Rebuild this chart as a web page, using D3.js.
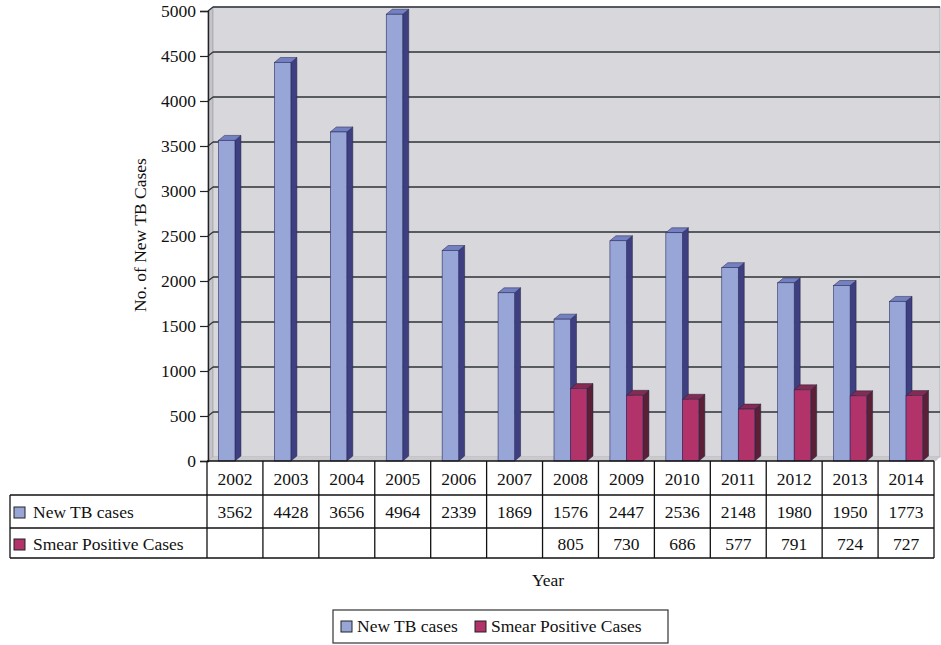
<!DOCTYPE html>
<html>
<head>
<meta charset="utf-8">
<script src="https://cdn.jsdelivr.net/npm/d3@7.9.0/dist/d3.min.js"></script>
<style>
  body { margin: 0; background: #fff; }
</style>
</head>
<body>
<div id="chart"></div>
<script>
const years = ['2002', '2003', '2004', '2005', '2006', '2007', '2008', '2009', '2010', '2011', '2012', '2013', '2014'];
const newCases = [3562, 4428, 3656, 4964, 2339, 1869, 1576, 2447, 2536, 2148, 1980, 1950, 1773];
const smearCases = [null, null, null, null, null, null, 805, 730, 686, 577, 791, 724, 727];
const seriesNames = ['New TB cases', 'Smear Positive Cases'];
const yTicks = [0, 500, 1000, 1500, 2000, 2500, 3000, 3500, 4000, 4500, 5000];

const width = 941;
const height = 645;
const plot = { left: 208, right: 934, top: 11, bottom: 461 };
const depth = { dx: 5, dy: -4 };
const barDepth = { dx: 6, dy: -5 };
const serif = 'Liberation Serif';

const colors = {
  wall: '#d8d8dc',
  side: '#c4c4ca',
  blue: { front: '#98a6d7', side: '#3d3f80', top: '#7380c2' },
  red: { front: '#b13369', side: '#5b2036', top: '#842b4f' }
};

const svg = d3.select('#chart')
  .append('svg')
  .attr('width', width)
  .attr('height', height);

const x = d3.scaleBand()
  .domain(years)
  .range([207, 934]);

const y = d3.scaleLinear()
  .domain([0, 5000])
  .range([plot.bottom, plot.top]);

// side wall and back wall
svg.append('polygon')
  .attr('points', [
    [plot.left, y(0)], [plot.left + depth.dx, y(0) + depth.dy],
    [plot.left + depth.dx, y(5000) + depth.dy], [plot.left, y(5000)]
  ].join(' '))
  .attr('fill', colors.side)
  .attr('stroke', '#9a9aa2')
  .attr('stroke-width', 0.8);

svg.append('rect')
  .attr('x', plot.left + depth.dx)
  .attr('y', y(5000) + depth.dy)
  .attr('width', 940 - plot.left - depth.dx)
  .attr('height', y(0) - y(5000))
  .attr('fill', colors.wall)
  .attr('stroke', '#b0b0b6')
  .attr('stroke-width', 1);

// floor
svg.append('polygon')
  .attr('points', [
    [plot.left, y(0)], [plot.left + depth.dx, y(0) + depth.dy],
    [940, y(0) + depth.dy], [936, y(0)]
  ].join(' '))
  .attr('fill', '#c9c9ce');

// gridlines on the back wall
const grid = svg.append('g').attr('class', 'gridlines');
grid.selectAll('line.back')
  .data(yTicks.filter(d => d > 0))
  .join('line')
  .attr('class', 'back')
  .attr('x1', plot.left + depth.dx)
  .attr('x2', 940)
  .attr('y1', d => y(d) + depth.dy)
  .attr('y2', d => y(d) + depth.dy)
  .attr('stroke', '#2e3338')
  .attr('stroke-width', 1.6);
grid.selectAll('line.diag')
  .data(yTicks.filter(d => d > 0))
  .join('line')
  .attr('class', 'diag')
  .attr('x1', plot.left)
  .attr('x2', plot.left + depth.dx)
  .attr('y1', d => y(d))
  .attr('y2', d => y(d) + depth.dy)
  .attr('stroke', '#2e3338')
  .attr('stroke-width', 1.2);

// 3D bars
function drawBars(values, offset, c) {
  const bw = 16.5;
  const g = svg.append('g');
  const data = years.map((yr, i) => ({ yr, v: values[i] })).filter(d => d.v != null);
  const x0 = d => x(d.yr) + x.bandwidth() / 2 + offset * bw;
  g.selectAll('polygon.side')
    .data(data)
    .join('polygon')
    .attr('points', d => [
      [x0(d) + bw, y(0)], [x0(d) + bw + barDepth.dx, y(0) + barDepth.dy],
      [x0(d) + bw + barDepth.dx, y(d.v) + barDepth.dy], [x0(d) + bw, y(d.v)]
    ].join(' '))
    .attr('fill', c.side)
    .attr('stroke', '#222244')
    .attr('stroke-width', 0.5);
  g.selectAll('polygon.top')
    .data(data)
    .join('polygon')
    .attr('points', d => [
      [x0(d), y(d.v)], [x0(d) + barDepth.dx, y(d.v) + barDepth.dy],
      [x0(d) + bw + barDepth.dx, y(d.v) + barDepth.dy], [x0(d) + bw, y(d.v)]
    ].join(' '))
    .attr('fill', c.top)
    .attr('stroke', '#222244')
    .attr('stroke-width', 0.5);
  g.selectAll('rect')
    .data(data)
    .join('rect')
    .attr('x', d => x0(d))
    .attr('y', d => y(d.v))
    .attr('width', bw)
    .attr('height', d => y(0) - y(d.v))
    .attr('fill', c.front)
    .attr('stroke', '#2b2d60')
    .attr('stroke-width', 0.6);
}
drawBars(newCases, -1, colors.blue);
drawBars(smearCases, 0, colors.red);

// Y axis
const yAxis = svg.append('g')
  .attr('transform', `translate(${plot.left}, 0)`)
  .call(d3.axisLeft(y).tickValues(yTicks).tickSize(8).tickPadding(4).tickFormat(d3.format('d')));
yAxis.select('.domain').attr('stroke', '#222').attr('stroke-width', 1.4);
yAxis.selectAll('.tick line').attr('stroke', '#222').attr('stroke-width', 1.2);

svg.append('text')
  .attr('transform', `translate(146, 235) rotate(-90)`)
  .attr('text-anchor', 'middle')
  .text('No. of New TB Cases');

// data table
const rows = { yearTop: 461, r1: 495, r2: 528, bottom: 558 };
const tableLeft = 10;
const table = svg.append('g').attr('stroke', '#111').attr('stroke-width', 1.3);
table.selectAll('line.v')
  .data(years.concat(['end']))
  .join('line')
  .attr('x1', (d, i) => i < years.length ? x(d) : x.range()[1])
  .attr('x2', (d, i) => i < years.length ? x(d) : x.range()[1])
  .attr('y1', rows.yearTop)
  .attr('y2', rows.bottom);
table.append('line').attr('x1', tableLeft).attr('x2', tableLeft).attr('y1', rows.r1).attr('y2', rows.bottom);
table.append('line').attr('x1', x.range()[0]).attr('x2', x.range()[1]).attr('y1', rows.yearTop).attr('y2', rows.yearTop);
[rows.r1, rows.r2, rows.bottom].forEach(r => {
  table.append('line').attr('x1', tableLeft).attr('x2', x.range()[1]).attr('y1', r).attr('y2', r);
});

const cellText = svg.append('g');
cellText.selectAll('text.yr')
  .data(years)
  .join('text')
  .attr('text-anchor', 'middle')
  .attr('x', d => x(d) + x.bandwidth() / 2)
  .attr('y', 485)
  .text(d => d);
cellText.selectAll('text.n')
  .data(newCases)
  .join('text')
  .attr('text-anchor', 'middle')
  .attr('x', (d, i) => x(years[i]) + x.bandwidth() / 2)
  .attr('y', 518)
  .text(d => d);
cellText.selectAll('text.s')
  .data(smearCases)
  .join('text')
  .attr('text-anchor', 'middle')
  .attr('x', (d, i) => x(years[i]) + x.bandwidth() / 2)
  .attr('y', 550)
  .text(d => d == null ? '' : d);

const rowSwatch = [colors.blue.front, colors.red.front];
[518, 550].forEach((base, i) => {
  svg.append('rect')
    .attr('x', 14).attr('y', base - 11).attr('width', 11).attr('height', 11)
    .attr('fill', rowSwatch[i]).attr('stroke', '#222').attr('stroke-width', 1);
  svg.append('text')
    .attr('x', 33).attr('y', base)
    .text(seriesNames[i]);
});

svg.append('text')
  .attr('x', 548).attr('y', 586)
  .attr('text-anchor', 'middle')
  .text('Year');

// legend
const legend = svg.append('g');
legend.append('rect')
  .attr('x', 333).attr('y', 610).attr('width', 335).attr('height', 33)
  .attr('fill', '#fff').attr('stroke', '#333').attr('stroke-width', 1.2);
const legendX = [341, 475];
seriesNames.forEach((name, i) => {
  legend.append('rect')
    .attr('x', legendX[i]).attr('y', 621).attr('width', 11).attr('height', 11)
    .attr('fill', rowSwatch[i]).attr('stroke', '#222').attr('stroke-width', 1);
  legend.append('text')
    .attr('x', legendX[i] + 16).attr('y', 632)
    .text(name);
});

// one font for every label, set on each text element
svg.selectAll('text')
  .style('font-family', serif)
  .style('font-size', '17.5px')
  .style('fill', '#111');
</script>
</body>
</html>
